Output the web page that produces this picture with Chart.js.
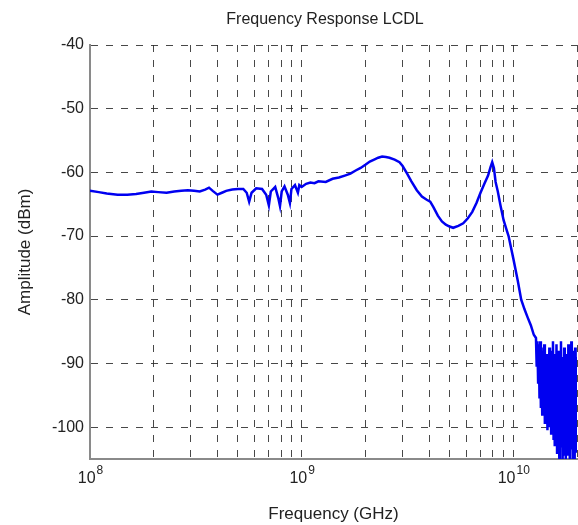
<!DOCTYPE html>
<html>
<head>
<meta charset="utf-8">
<script src="https://cdn.jsdelivr.net/npm/chart.js@4.4.1/dist/chart.umd.min.js"></script>
<style>
    html, body { margin: 0; padding: 0; background: #fff; }
    #chart-wrapper { width: 578px; height: 525px; position: relative; }
</style>
</head>
<body>
<div id="chart-wrapper"><canvas id="responseChart"></canvas></div>
<script>
// Data (frequency in Hz, amplitude in dBm)
const freqs = [
    1.00e8, 1.10e8, 1.20e8, 1.35e8, 1.50e8, 1.65e8, 1.80e8, 1.95e8, 2.10e8, 2.30e8,
    2.50e8, 2.70e8, 2.90e8, 3.10e8, 3.30e8, 3.50e8, 3.65e8, 3.80e8, 4.00e8, 4.20e8,
    4.40e8, 4.70e8, 5.00e8, 5.30e8, 5.50e8, 5.65e8, 5.80e8, 6.10e8, 6.50e8, 6.80e8,
    7.00e8, 7.15e8, 7.50e8, 7.75e8, 7.90e8, 8.05e8, 8.30e8, 8.60e8, 8.80e8, 8.95e8,
    9.30e8, 9.60e8, 9.75e8, 1.00e9, 1.05e9, 1.10e9, 1.15e9, 1.20e9, 1.30e9, 1.40e9,
    1.50e9, 1.60e9, 1.70e9, 1.80e9, 1.90e9, 2.00e9, 2.10e9, 2.20e9, 2.30e9, 2.40e9,
    2.50e9, 2.60e9, 2.75e9, 2.90e9, 3.00e9, 3.15e9, 3.30e9, 3.50e9, 3.70e9, 3.90e9,
    4.05e9, 4.20e9, 4.40e9, 4.60e9, 4.80e9, 5.00e9, 5.20e9, 5.50e9, 5.80e9, 6.10e9,
    6.40e9, 6.70e9, 7.00e9, 7.30e9, 7.60e9, 7.80e9, 7.95e9, 8.10e9, 8.25e9, 8.45e9,
    8.70e9, 9.00e9, 9.25e9, 9.50e9, 1.00e10, 1.05e10, 1.09e10, 1.13e10, 1.17e10, 1.21e10,
    1.25e10, 1.28e10, 1.29e10, 1.30e10, 1.31e10, 1.32e10, 1.33e10, 1.34e10, 1.35e10, 1.36e10,
    1.37e10, 1.38e10, 1.39e10, 1.40e10, 1.41e10, 1.42e10, 1.43e10, 1.44e10, 1.45e10, 1.46e10,
    1.47e10, 1.48e10, 1.49e10, 1.50e10, 1.51e10, 1.52e10, 1.53e10, 1.54e10, 1.55e10, 1.56e10,
    1.57e10, 1.58e10, 1.59e10, 1.60e10, 1.61e10, 1.62e10, 1.63e10, 1.64e10, 1.65e10, 1.66e10,
    1.67e10, 1.68e10, 1.69e10, 1.70e10, 1.71e10, 1.72e10, 1.73e10, 1.74e10, 1.75e10, 1.76e10,
    1.77e10, 1.78e10, 1.79e10, 1.80e10, 1.81e10, 1.82e10, 1.83e10, 1.84e10, 1.85e10, 1.86e10,
    1.87e10, 1.88e10, 1.89e10, 1.90e10, 1.91e10, 1.92e10, 1.93e10, 1.94e10, 1.95e10, 1.96e10,
    1.97e10, 1.98e10, 1.99e10, 2.00e10, 2.01e10, 2.02e10
];
const amplitudes = [
    -62.9, -63.1, -63.3, -63.5, -63.5, -63.4, -63.2, -63.0, -63.1, -63.2,
    -63.0, -62.9, -62.8, -62.9, -63.0, -62.7, -62.4, -62.9, -63.5, -63.2,
    -62.9, -62.7, -62.6, -62.6, -63.2, -64.6, -63.2, -62.5, -62.6, -63.5,
    -65.2, -63.0, -62.3, -64.0, -65.3, -63.0, -62.2, -63.5, -64.8, -62.6,
    -62.0, -63.2, -62.0, -62.3, -61.8, -61.6, -61.7, -61.4, -61.5, -61.0,
    -60.8, -60.5, -60.2, -59.7, -59.3, -58.8, -58.3, -58.0, -57.7, -57.5,
    -57.6, -57.7, -58.0, -58.4, -59.0, -60.2, -61.4, -62.8, -63.8, -64.3,
    -64.6, -65.5, -66.8, -67.7, -68.2, -68.5, -68.7, -68.4, -68.0, -67.2,
    -66.2, -64.8, -63.2, -61.8, -60.5, -59.2, -58.4, -59.3, -61.5, -63.0,
    -65.2, -67.5, -68.8, -70.0, -73.5, -77.0, -80.0, -81.5, -82.8, -84.0,
    -85.5, -86.0, -90.5, -86.5, -93.0, -87.0, -95.5, -86.5, -97.0, -87.5,
    -98.0, -88.0, -96.5, -87.0, -99.5, -89.0, -98.0, -88.5, -100.5, -90.0,
    -99.0, -87.5, -100.0, -89.5, -101.0, -88.0, -99.5, -86.5, -102.0, -90.5,
    -103.0, -88.5, -101.5, -87.0, -104.0, -91.0, -102.5, -88.0, -105.5, -90.0,
    -103.0, -86.5, -101.0, -92.0, -106.0, -89.0, -104.5, -87.5, -100.5, -93.0,
    -105.0, -88.5, -103.0, -90.5, -104.5, -87.0, -102.0, -91.5, -106.0, -89.5,
    -103.5, -86.5, -100.5, -92.5, -105.0, -88.0, -103.5, -90.0, -105.5, -87.5,
    -101.0, -91.0, -104.0, -89.0, -102.0, -90.0
];

// Axes
const decades = [1e8, 1e9, 1e10];
const decadeLabels = ['8', '9', '10'];
const minorSteps = [1, 2, 3, 4, 5, 6, 7, 8, 9];
const yTicks = [-100, -90, -80, -70, -60, -50, -40];
const xMin = 1e8, xMax = 2e10;
const yMin = -105, yMax = -40;

const fontFamily = '"Liberation Sans", Arial, sans-serif';
const gridColor = 'rgba(40,40,40,0.85)';
const axisColor = '#8a8a8a';

const xGridValues = [];
decades.forEach(d => minorSteps.forEach(m => {
    const v = d * m;
    if (v <= xMax) xGridValues.push(v);
}));

// draws 10^n tick labels and the plot title
const labelPlugin = {
    id: 'labelPlugin',
    afterDraw(chart) {
        const ctx = chart.ctx;
        const xScale = chart.scales.x;
        ctx.save();
        ctx.fillStyle = '#222';
        decades.forEach((d, i) => {
            const px = xScale.getPixelForValue(d);
            ctx.font = '16px ' + fontFamily;
            const baseW = ctx.measureText('10').width;
            ctx.font = '12px ' + fontFamily;
            const supW = ctx.measureText(decadeLabels[i]).width;
            const start = px - (baseW + supW) / 2;
            ctx.textBaseline = 'alphabetic';
            ctx.textAlign = 'left';
            ctx.font = '16px ' + fontFamily;
            ctx.fillText('10', start, 483);
            ctx.font = '12px ' + fontFamily;
            ctx.fillText(decadeLabels[i], start + baseW + 1, 474);
        });
        ctx.font = '16px ' + fontFamily;
        ctx.textAlign = 'center';
        ctx.textBaseline = 'middle';
        ctx.fillText('Frequency Response LCDL', 325, 20);
        ctx.restore();
    }
};

const ctx = document.getElementById('responseChart').getContext('2d');
const responseChart = new Chart(ctx, {
    type: 'line',
    data: {
        datasets: [{
            label: 'LCDL',
            data: freqs.map((f, i) => ({ x: f, y: amplitudes[i] })),
            borderColor: '#0000f0',
            borderWidth: 2.5,
            pointRadius: 0,
            fill: false,
            tension: 0
        }]
    },
    options: {
        responsive: true,
        maintainAspectRatio: false,
        animation: false,
        layout: { padding: { top: 45, right: 1, left: 0, bottom: 0 } },
        scales: {
            x: {
                type: 'logarithmic',
                min: xMin,
                max: xMax,
                afterBuildTicks: (scale) => {
                    scale.ticks = xGridValues.map(v => ({ value: v }));
                },
                afterFit: (scale) => { scale.height = 66; },
                ticks: { display: false },
                grid: {
                    color: gridColor,
                    lineWidth: 1,
                    drawTicks: false
                },
                border: { color: axisColor, width: 2, dash: [7, 8] },
                title: {
                    display: true,
                    text: 'Frequency (GHz)',
                    color: '#222',
                    font: { family: fontFamily, size: 17 },
                    padding: { top: 10, bottom: 0 }
                }
            },
            y: {
                type: 'linear',
                min: yMin,
                max: yMax,
                afterBuildTicks: (scale) => {
                    scale.ticks = yTicks.map(v => ({ value: v }));
                },
                afterFit: (scale) => { scale.width = 90; },
                ticks: {
                    color: '#222',
                    padding: 6,
                    font: { family: fontFamily, size: 16 }
                },
                grid: {
                    color: gridColor,
                    lineWidth: 1,
                    drawTicks: false
                },
                border: { color: axisColor, width: 2, dash: [7, 8] },
                title: {
                    display: true,
                    text: 'Amplitude (dBm)',
                    color: '#222',
                    font: { family: fontFamily, size: 17 },
                    padding: { top: 15, bottom: 0 }
                }
            }
        },
        plugins: {
            legend: { display: false },
            tooltip: { enabled: false }
        }
    },
    plugins: [labelPlugin]
});
</script>
</body>
</html>
